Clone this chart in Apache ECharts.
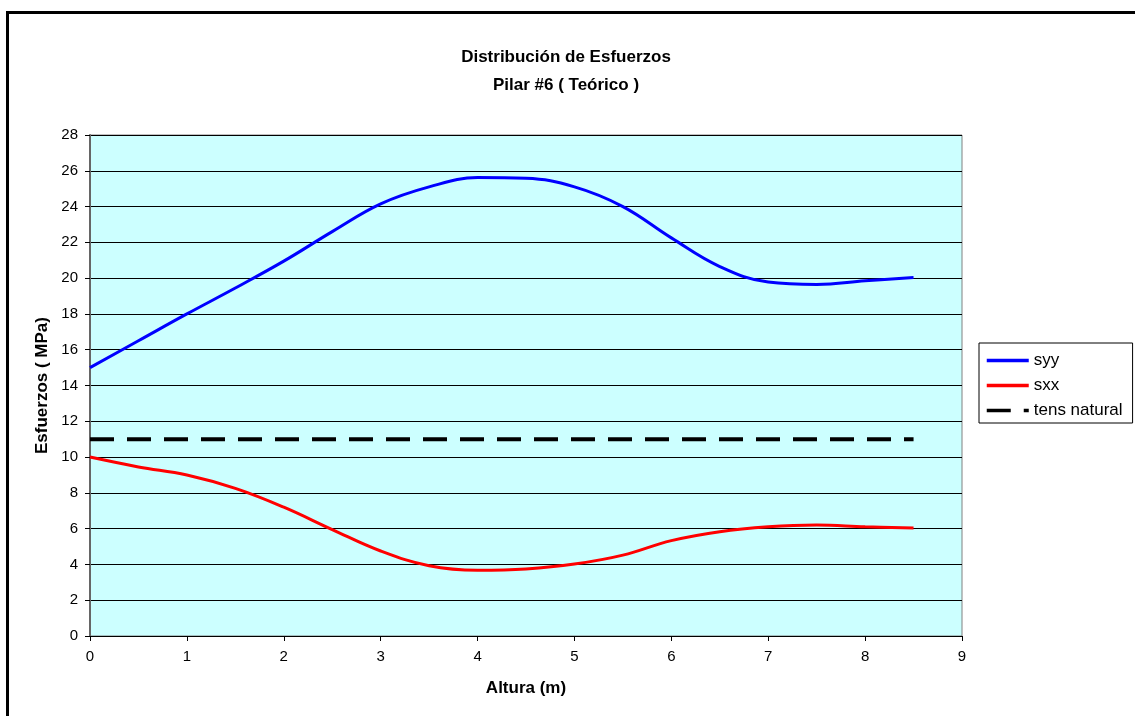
<!DOCTYPE html>
<html>
<head>
<meta charset="utf-8">
<script src="https://cdn.jsdelivr.net/npm/echarts@6/dist/echarts.min.js"></script>
<style>html,body{margin:0;padding:0;background:#fff}#c{width:1135px;height:716px}</style>
</head>
<body>
<div id="c"></div>
<script>
const titleText = "Distribución de Esfuerzos\nPilar #6 ( Teórico )";
const xAxisName = "Altura (m)";
const yAxisName = "Esfuerzos ( MPa)";
const seriesNames = ["syy", "sxx", "tens natural"];

const heights = [0, 0.5, 1, 1.5, 2, 2.5, 3, 3.5, 4, 4.5, 5, 5.5, 6, 6.5, 7, 7.5, 8, 8.5];
const syy = [15.0, 16.5, 18.0, 19.45, 20.95, 22.6, 24.15, 25.1, 25.62, 25.58, 25.1, 24.0, 22.25, 20.65, 19.78, 19.65, 19.85, 20.04];
const sxx = [10.0, 9.45, 9.0, 8.25, 7.2, 5.95, 4.75, 3.93, 3.68, 3.75, 4.02, 4.52, 5.33, 5.83, 6.1, 6.2, 6.1, 6.03];

const tensX = [0, 8.5];
const tensY = [11, 11];

const pairs = (xs, ys) => xs.map((x, i) => [x, ys[i]]);
const FONT = 'Liberation Sans, Arial, sans-serif';

const chart = echarts.init(document.getElementById('c'));
chart.setOption({
  animation: false,
  backgroundColor: '#ffffff',
  textStyle: { fontFamily: FONT },
  title: {
    text: titleText,
    left: 561, top: 38, textAlign: 'center',
    textStyle: { fontSize: 17, fontWeight: 'bold', color: '#000', lineHeight: 28, fontFamily: FONT }
  },
  graphic: [{
    type: 'rect', silent: true, z: 100,
    shape: { x: 7.5, y: 12.5, width: 1200, height: 800 },
    style: { fill: 'none', stroke: '#000', lineWidth: 3 }
  }],
  legend: {
    orient: 'vertical',
    left: 979, top: 343,
    padding: [9, 10, 4, 6],
    itemGap: 8,
    itemWidth: 42, itemHeight: 14,
    itemTextGap: 4,
    borderColor: '#000', borderWidth: 1,
    backgroundColor: '#fff',
    itemStyle: { color: 'rgba(0,0,0,0)', borderWidth: 0, opacity: 0 },
    lineStyle: { width: 3.5 },
    textStyle: { fontSize: 17, color: '#000', fontFamily: FONT },
    data: seriesNames
  },
  grid: {
    left: 90, right: 173, top: 135, bottom: 80,
    show: true, backgroundColor: '#CCFFFF', borderColor: '#808080', borderWidth: 1
  },
  xAxis: {
    type: 'value', min: 0, max: 9, interval: 1,
    name: xAxisName, nameLocation: 'middle', nameGap: 44,
    nameTextStyle: { fontSize: 17, fontWeight: 'bold', color: '#000' },
    axisLine: { show: true, onZero: false, lineStyle: { color: '#000', width: 1 } },
    axisTick: { show: true, inside: false, length: 5, lineStyle: { color: '#000' } },
    axisLabel: { fontSize: 15, color: '#000', margin: 13 },
    splitLine: { show: false }
  },
  yAxis: {
    type: 'value', min: 0, max: 28, interval: 2,
    name: yAxisName, nameLocation: 'middle', nameGap: 39, nameRotate: 90,
    nameTextStyle: { fontSize: 17, fontWeight: 'bold', color: '#000' },
    axisLine: { show: true, lineStyle: { color: '#666', width: 2 } },
    axisTick: { show: true, inside: false, length: 5, lineStyle: { color: '#000' } },
    axisLabel: { fontSize: 15, color: '#000', margin: 12 },
    splitLine: { show: true, lineStyle: { color: '#000', width: 1 } }
  },
  series: [
    {
      name: seriesNames[0], type: 'line', data: pairs(heights, syy),
      smooth: 0.4, symbol: 'none',
      lineStyle: { color: '#0000FF', width: 3 }, itemStyle: { color: '#0000FF' }
    },
    {
      name: seriesNames[1], type: 'line', data: pairs(heights, sxx),
      smooth: 0.4, symbol: 'none',
      lineStyle: { color: '#FF0000', width: 3 }, itemStyle: { color: '#FF0000' }
    },
    {
      name: seriesNames[2], type: 'line', data: pairs(tensX, tensY),
      symbol: 'none',
      lineStyle: { color: '#000', width: 4, type: [24, 13] }, itemStyle: { color: '#000' }
    }
  ]
});
</script>
</body>
</html>
